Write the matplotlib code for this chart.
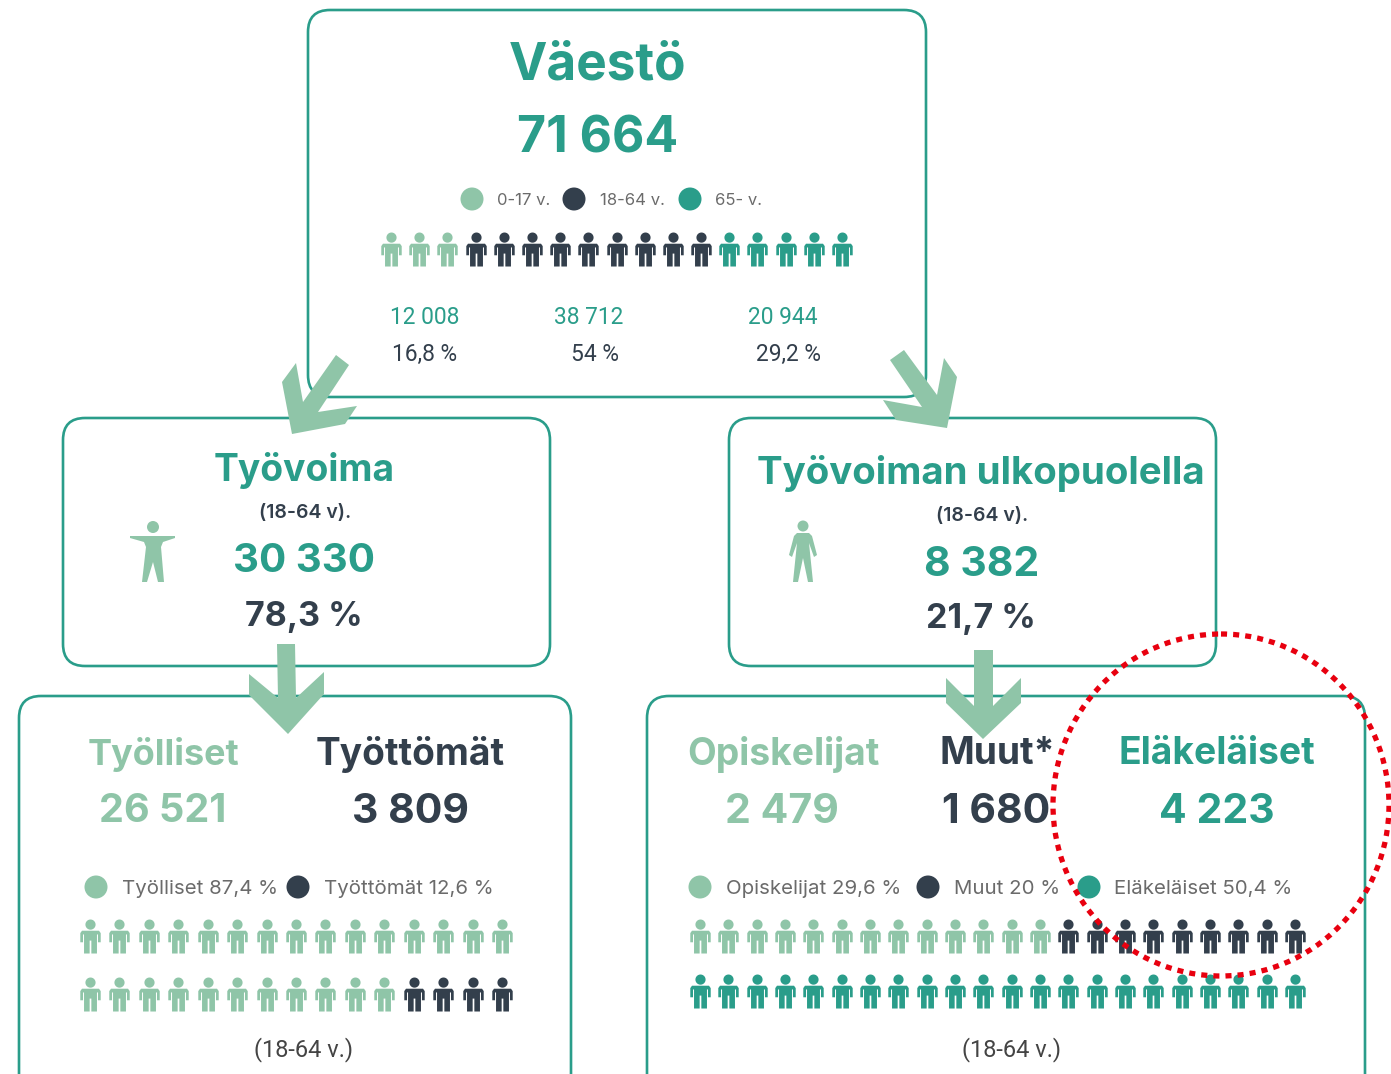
import numpy as np
import matplotlib
matplotlib.use("Agg")
import matplotlib.pyplot as plt
from matplotlib.patches import FancyBboxPatch, Polygon, Ellipse, Circle
from matplotlib.path import Path

LIGHT = "#8fc5a8"
DARK = "#333f4c"
TEAL = "#2a9d8a"
GREY = "#6b6b6b"
HEAD = "Inter"
BODY = "Roboto"

# population
pop_total = "71 664"
pop_ages = ["0-17 v.", "18-64 v.", "65- v."]
pop_counts = ["12 008", "38 712", "20 944"]
pop_shares = ["16,8 %", "54 %", "29,2 %"]
pop_icons = [3, 9, 5]

# labour force
force_total = "30 330"
force_share = "78,3 %"
outside_total = "8 382"
outside_share = "21,7 %"

# bottom left
left_names = ["Työlliset", "Työttömät"]
left_values = ["26 521", "3 809"]
left_legend = ["Työlliset 87,4 %", "Työttömät 12,6 %"]
left_row1 = [15, 0]
left_row2 = [11, 4]

# bottom right
right_names = ["Opiskelijat", "Muut*", "Eläkeläiset"]
right_values = ["2 479", "1 680", "4 223"]
right_legend = ["Opiskelijat 29,6 %", "Muut 20 %", "Eläkeläiset 50,4 %"]
right_row1 = [13, 9, 0]
right_row2 = [0, 0, 22]

COLORS = [LIGHT, DARK, TEAL]


def person_marker():
    # small standing figure, head + body with arms and legs
    t = np.linspace(0, 2 * np.pi, 25)
    head = np.column_stack([0.15 * np.cos(t), -0.35 + 0.15 * np.sin(t)])
    body = [(-0.30, -0.10), (-0.25, -0.17), (0.25, -0.17), (0.30, -0.10), (0.30, 0.17),
            (0.22, 0.17), (0.22, -0.06), (0.19, -0.06), (0.19, 0.5), (0.025, 0.5), (0.025, 0.12),
            (-0.025, 0.12), (-0.025, 0.5), (-0.19, 0.5), (-0.19, -0.06), (-0.22, -0.06),
            (-0.22, 0.17), (-0.30, 0.17), (-0.30, -0.10)]
    body = np.array(body)
    verts = np.vstack([head, body])
    codes = [Path.MOVETO] + [Path.LINETO] * (len(head) - 2) + [Path.CLOSEPOLY]
    codes += [Path.MOVETO] + [Path.LINETO] * (len(body) - 2) + [Path.CLOSEPOLY]
    verts = verts * [1, -1]  # markers are drawn y-up
    return Path(verts, codes)


PERSON = person_marker()


def icon_row(ax, x0, x1, y, counts, size=600):
    xs = np.linspace(x0, x1, sum(counts))
    i = 0
    for n, c in zip(counts, COLORS):
        if n:
            ax.scatter(xs[i:i + n], [y] * n, marker=PERSON, s=size, color=c, linewidths=0, zorder=3)
        i += n


def box(ax, x0, y0, x1, y1):
    ax.add_patch(FancyBboxPatch((x0 + 22, y0 + 22), x1 - x0 - 44, y1 - y0 - 44,
                                boxstyle="round,pad=22,rounding_size=22",
                                fc="white", ec=TEAL, lw=1.9, zorder=1))


def txt(ax, x, y, s, size, color, weight="bold", family=HEAD, **kw):
    shift = size * (0.13 if family == HEAD else 0.1)
    ax.text(x, y + shift, s, fontsize=size, color=color, fontweight=weight, family=family,
            ha=kw.pop("ha", "center"), va="center", zorder=5, **kw)


def legend(ax, xs_dot, xs_txt, y, labels, size):
    for xd, xt, lab, c in zip(xs_dot, xs_txt, labels, COLORS):
        ax.add_patch(Circle((xd, y), 11.5, fc=c, ec="none", zorder=3))
        txt(ax, xt, y, lab, size, GREY, weight="normal", ha="left")


fig = plt.figure(figsize=(13.91, 10.74), dpi=100)
ax = fig.add_axes([0, 0, 1, 1])
ax.set_xlim(0, 1391)
ax.set_ylim(1074, 0)
ax.axis("off")

box(ax, 308, 10, 926, 397)
box(ax, 63, 418, 550, 666)
box(ax, 729, 418, 1216, 666)
box(ax, 19, 696, 571, 1100)
box(ax, 647, 696, 1365, 1100)

# top box
txt(ax, 598, 61, "Väestö", 37, TEAL)
txt(ax, 598, 134, pop_total, 36, TEAL)
legend(ax, [472, 574, 690], [497, 600, 715], 199, pop_ages, 12)
icon_row(ax, 391, 842, 249, pop_icons)
for x, a in zip([425, 589, 783], pop_counts):
    txt(ax, x, 316, a, 16.4, TEAL, weight="normal", family=BODY)
for x, b in zip([425, 595, 789], pop_shares):
    txt(ax, x, 353, b, 16.4, DARK, weight="normal", family=BODY)

# labour force boxes
txt(ax, 304, 467, "Työvoima", 26.8, TEAL)
txt(ax, 305, 511, "(18-64 v).", 14, DARK, weight="semibold")
txt(ax, 304, 558, force_total, 29, TEAL)
txt(ax, 304, 614, force_share, 24.5, DARK)
txt(ax, 981, 470, "Työvoiman ulkopuolella", 27.7, TEAL)
txt(ax, 982, 514, "(18-64 v).", 14, DARK, weight="semibold")
txt(ax, 982, 561, outside_total, 29.5, TEAL)
txt(ax, 981, 616, outside_share, 24.5, DARK)

# big figures next to the boxes
ax.add_patch(Circle((153, 527), 6, fc=LIGHT, ec="none", zorder=3))
ax.add_patch(Polygon([(130, 536), (175, 536), (175, 538), (163, 542), (161, 547), (164, 582), (158, 582),
                      (153, 562), (147, 582), (142, 582), (146, 547), (144, 542), (130, 538)],
                     fc=LIGHT, ec="none", zorder=3))
ax.add_patch(Circle((803, 526), 5.5, fc=LIGHT, ec="none", zorder=3))
ax.add_patch(Polygon([(797, 533), (809, 533), (812, 536), (817, 555), (814, 557), (809, 543), (813, 582),
                      (808, 582), (803, 558), (798, 582), (793, 582), (797, 543), (792, 557), (789, 555),
                      (794, 536)], fc=LIGHT, ec="none", zorder=3))

# bottom left
txt(ax, 163, 751, left_names[0], 25.9, LIGHT)
txt(ax, 410, 751, left_names[1], 26.7, DARK)
txt(ax, 163, 808, left_values[0], 28.5, LIGHT)
txt(ax, 410, 808, left_values[1], 29.5, DARK)
legend(ax, [96, 298], [122, 324], 887, left_legend, 14.7)
icon_row(ax, 90, 502, 936, left_row1)
icon_row(ax, 90, 502, 994, left_row2)
txt(ax, 304, 1048, "(18-64 v.)", 17, "#444444", weight="normal", family=BODY)

# bottom right
txt(ax, 783, 751, right_names[0], 26.8, LIGHT)
txt(ax, 997, 751, right_names[1], 26.8, DARK)
txt(ax, 1217, 751, right_names[2], 26.8, TEAL)
txt(ax, 782, 808, right_values[0], 29.5, LIGHT)
txt(ax, 996, 808, right_values[1], 29.5, DARK)
txt(ax, 1217, 808, right_values[2], 29.5, TEAL)
legend(ax, [700, 928, 1089], [726, 954, 1114], 887, right_legend, 14.7)
icon_row(ax, 700, 1295, 936, right_row1)
icon_row(ax, 700, 1295, 991, right_row2)
txt(ax, 1012, 1048, "(18-64 v.)", 17, "#444444", weight="normal", family=BODY)

# arrows between boxes
arrows = [
    [(336, 355), (349, 365), (318, 412), (357, 406), (345, 424), (292, 434), (282, 382), (296, 363), (303, 402)],
    [(890, 360), (904, 350), (937, 395), (944, 358), (957, 377), (947, 428), (896, 420), (883, 400), (922, 407)],
    [(277, 644), (295, 644), (296, 698), (324, 672), (324, 694), (288, 734), (249, 695), (249, 674), (278, 698)],
    [(974, 650), (993, 650), (993, 706), (1021, 678), (1021, 703), (983, 739), (946, 703), (946, 678), (974, 706)],
]
for pts in arrows:
    ax.add_patch(Polygon(pts, closed=True, fc=LIGHT, ec="none", zorder=4))

# red dotted highlight
ax.add_patch(Ellipse((1221, 805), 336, 342, fc="none", ec="#e8000f", lw=3.8,
                     ls=(0, (1.15, 1.15)), zorder=6))

fig.savefig("out.png", dpi=100)
